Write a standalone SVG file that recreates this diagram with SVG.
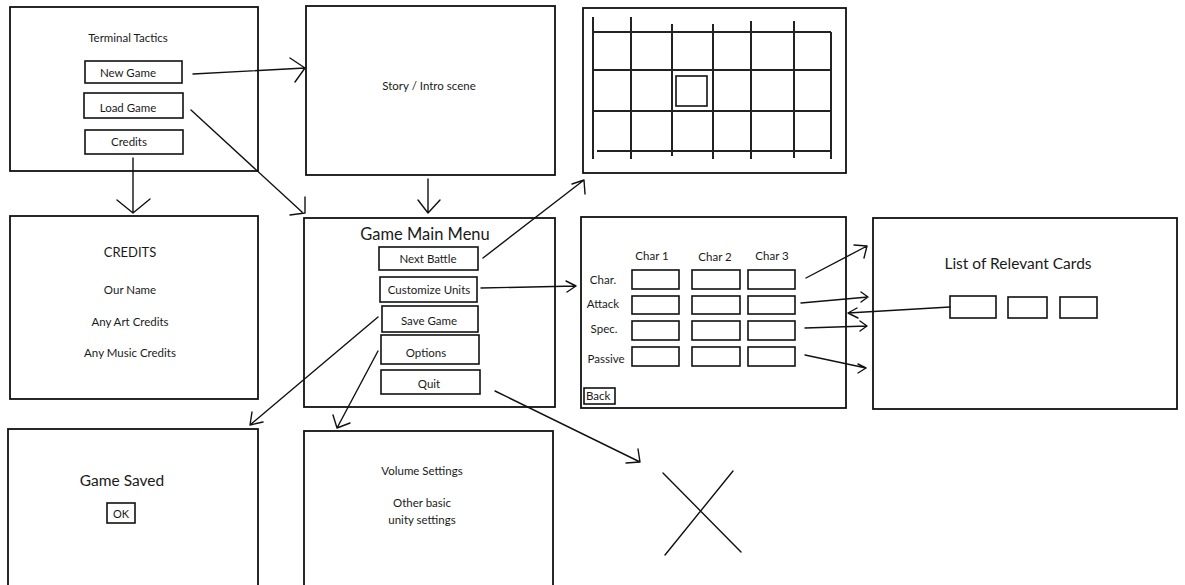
<svg xmlns="http://www.w3.org/2000/svg" width="1185" height="585" viewBox="0 0 1185 585">
<style>
.bx{fill:#fff;stroke:#111;stroke-width:1.8}
.bt{fill:none;stroke:#111;stroke-width:1.6}
.t{font-family:Lato,"Open Sans",sans-serif;font-size:11.5px;fill:#1a1a1a;text-anchor:middle}
.tl{font-family:Lato,"Open Sans",sans-serif;font-size:15.5px;fill:#1a1a1a;text-anchor:middle}
.ln{fill:none;stroke:#111;stroke-width:1.4;stroke-linecap:round;stroke-linejoin:round}
.gr{fill:none;stroke:#222;stroke-width:2}
</style>
<rect width="1185" height="585" fill="#fff"/>

<g id="title-menu">
<rect class="bx" x="10" y="7" width="248" height="164"/>
<text class="t" x="128" y="42">Terminal Tactics</text>
<rect class="bt" x="85" y="61" width="97" height="22"/><text class="t" x="128" y="77">New Game</text>
<rect class="bt" x="84" y="93" width="99" height="25"/><text class="t" x="128" y="112">Load Game</text>
<rect class="bt" x="85" y="130" width="98" height="24"/><text class="t" x="129" y="146">Credits</text>
</g>

<g id="story">
<rect class="bx" x="306" y="6" width="249" height="169"/>
<text class="t" x="429" y="90">Story / Intro scene</text>
</g>

<g id="battle-grid">
<rect class="bx" x="583" y="8" width="263" height="165"/>
<g class="gr">
<path d="M592 32H831M592 70H831M593 111H831M597 151H831"/>
<path d="M593 17V159M631 17V159M672 24V156M713 24V159M751 21V159M794 21V158M831 32V159"/>
</g>
<rect class="bt" x="676" y="76" width="31" height="30"/>
</g>

<g id="credits">
<rect class="bx" x="10" y="216" width="248" height="183"/>
<text class="tl" x="130" y="257" style="font-size:13px">CREDITS</text>
<text class="t" x="130" y="294">Our Name</text>
<text class="t" x="130" y="326">Any Art Credits</text>
<text class="t" x="130" y="357">Any Music Credits</text>
</g>

<g id="main-menu">
<rect class="bx" x="304" y="218" width="251" height="189"/>
<text class="tl" x="425" y="240" style="font-size:16.5px">Game Main Menu</text>
<rect class="bt" x="379" y="247" width="99" height="23"/><text class="t" x="428" y="263">Next Battle</text>
<rect class="bt" x="380" y="277" width="97" height="25"/><text class="t" x="429" y="294">Customize Units</text>
<rect class="bt" x="382" y="306" width="96" height="26"/><text class="t" x="429" y="325">Save Game</text>
<rect class="bt" x="381" y="335" width="98" height="29"/><text class="t" x="426" y="357">Options</text>
<rect class="bt" x="381" y="370" width="99" height="24"/><text class="t" x="429" y="388">Quit</text>
</g>

<g id="customize">
<rect class="bx" x="581" y="217" width="265" height="191"/>
<text class="t" x="652" y="260">Char 1</text>
<text class="t" x="715" y="261">Char 2</text>
<text class="t" x="772" y="260">Char 3</text>
<text class="t" x="603" y="284">Char.</text>
<text class="t" x="603" y="308">Attack</text>
<text class="t" x="604" y="333">Spec.</text>
<text class="t" x="606" y="363">Passive</text>
<g class="bt">
<rect x="632" y="270" width="47" height="19"/><rect x="692" y="270" width="48" height="19"/><rect x="748" y="270" width="47" height="19"/>
<rect x="632" y="296" width="47" height="18"/><rect x="692" y="296" width="48" height="18"/><rect x="748" y="296" width="47" height="18"/>
<rect x="632" y="321" width="47" height="19"/><rect x="692" y="321" width="48" height="19"/><rect x="748" y="321" width="47" height="19"/>
<rect x="632" y="347" width="47" height="19"/><rect x="692" y="347" width="48" height="19"/><rect x="748" y="347" width="47" height="19"/>
</g>
<rect class="bt" x="584" y="388" width="31" height="16"/>
<text class="t" x="586" y="400" style="text-anchor:start">Back</text>
</g>

<g id="relevant-cards">
<rect class="bx" x="873" y="218" width="304" height="191"/>
<text class="tl" x="1018" y="269">List of Relevant Cards</text>
<rect class="bt" x="950" y="296" width="46" height="22"/>
<rect class="bt" x="1008" y="297" width="39" height="21"/>
<rect class="bt" x="1060" y="297" width="37" height="21"/>
</g>

<g id="game-saved">
<rect class="bx" x="8" y="429" width="250" height="170"/>
<text class="tl" x="122" y="486">Game Saved</text>
<rect class="bt" x="107" y="503" width="28" height="20"/>
<text class="t" x="121" y="518" style="font-size:11px">OK</text>
</g>

<g id="options">
<rect class="bx" x="304" y="431" width="249" height="170"/>
<text class="t" x="422" y="475">Volume Settings</text>
<text class="t" x="422" y="507">Other basic</text>
<text class="t" x="422" y="524">unity settings</text>
</g>

<g id="quit-x">
<path class="ln" d="M663 473L741 552M733 471L665 555"/>
</g>

<g id="connectors" class="ln">
<path d="M193 74L305 68M290 58L305 68L295 82"/>
<path d="M191 110L302 212M305 197V213M290 215L305 213"/>
<path d="M133 158V213M117 200L133 213L150 199"/>
<path d="M428 179V213M418 200L428 213L440 200"/>
<path d="M483 258L584 180M572 184L584 180L585 194"/>
<path d="M481 288L576 286M566 281L576 286L567 292"/>
<path d="M378 317L250 425M252 412L250 425L263 422"/>
<path d="M378 351L337 428M333 415L337 428L350 423"/>
<path d="M495 391L640 462M626 463L640 462L638 449"/>
<path d="M806 278L867 246M854 245L867 246L864 258"/>
<path d="M801 303L868 297M861 292L868 297L861 302"/>
<path d="M805 328L867 326M860 321L867 326L860 331"/>
<path d="M805 355L866 368M858 364L866 368L858 373"/>
<path d="M950 307L848 313M857 308L848 313L858 318"/>
</g>
</svg>
